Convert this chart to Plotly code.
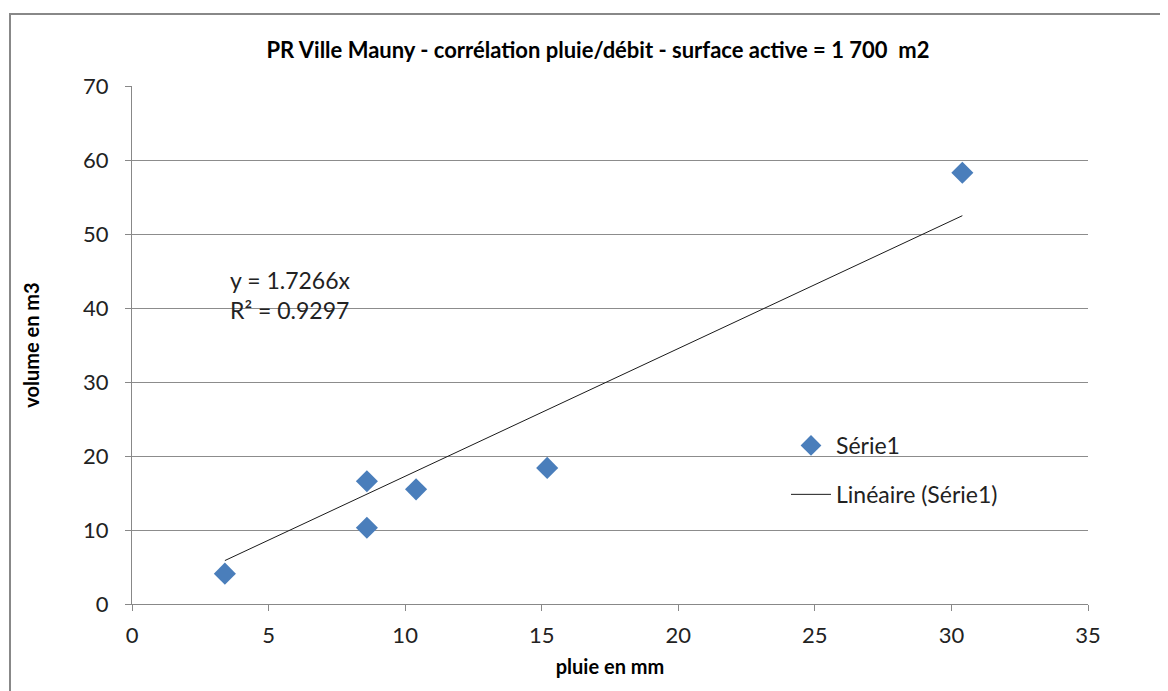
import plotly.graph_objects as go

# Data
pluie_mm = [3.4, 8.6, 8.6, 10.4, 15.2, 30.4]
volume_m3 = [4.1, 16.6, 10.3, 15.5, 18.4, 58.3]
trend_slope = 1.7266
r_squared = 0.9297
x_ticks = [0, 5, 10, 15, 20, 25, 30, 35]
y_ticks = [0, 10, 20, 30, 40, 50, 60, 70]

FONT = "Lato"
OFF = 8  # page body margin

trend_x = [min(pluie_mm), max(pluie_mm)]
trend_y = [trend_slope * v for v in trend_x]

fig = go.Figure()
fig.add_trace(go.Scatter(
    x=pluie_mm, y=volume_m3, mode="markers", name="Série1", legendgroup="a",
    marker=dict(symbol="diamond", size=17, color="#4a7ebb"),
))
fig.add_trace(go.Scatter(
    x=trend_x, y=trend_y, mode="lines", name="Linéaire (Série1)", legendgroup="b",
    line=dict(color="#1a1a1a", width=1),
))

L, T = 132 - OFF, 86 - OFF
R = 1168 - (1088 - OFF)
B = 691 - (604 - OFF)
PW, PH = 1168 - L - R, 691 - T - B

fig.update_layout(
    width=1168, height=691,
    margin=dict(l=L, r=R, t=T, b=B),
    paper_bgcolor="white", plot_bgcolor="white",
    title=dict(
        text="<b>PR Ville Mauny - corrélation pluie/débit - surface active = 1 700  m2</b>",
        x=(598 - OFF) / 1168, xanchor="center",
        y=1 - (50 - OFF) / 691, yanchor="middle",
        font=dict(family=FONT, size=22, color="#000"),
    ),
    font=dict(family=FONT, size=22, color="#222"),
    showlegend=True,
    legend=dict(
        x=(786 - OFF - L) / PW, y=(604 - 424) / PH, xanchor="left", yanchor="top",
        bgcolor="rgba(0,0,0,0)", font=dict(family=FONT, size=23, color="#222"),
        tracegroupgap=16, itemwidth=40,
    ),
    xaxis=dict(
        range=[0, 35], tickvals=x_ticks, showgrid=False, zeroline=False,
        showline=True, linecolor="#888", linewidth=1,
        ticks="outside", tickcolor="#888", ticklen=6, ticklabelstandoff=6,
        tickfont=dict(family=FONT, size=22, color="#222"),
        title=dict(text="<b>pluie en mm</b>", font=dict(family=FONT, size=20, color="#000"), standoff=12),
    ),
    yaxis=dict(
        range=[0, 70.02], tickvals=y_ticks, showgrid=True, gridcolor="#8c8c8c", gridwidth=1,
        zeroline=False, showline=True, linecolor="#888", linewidth=1,
        ticks="outside", tickcolor="#888", ticklen=6, ticklabelstandoff=12,
        tickfont=dict(family=FONT, size=22, color="#222"),
        title=dict(text="<b>volume en m3</b>", font=dict(family=FONT, size=20, color="#000"), standoff=38),
    ),
)

fig.add_annotation(x=3.5, y=43.8, xref="x", yref="y", text=f"y = {trend_slope}x",
                   showarrow=False, xanchor="left", yanchor="middle",
                   font=dict(family=FONT, size=23, color="#222"))
fig.add_annotation(x=3.5, y=39.7, xref="x", yref="y", text=f"R² = {r_squared}",
                   showarrow=False, xanchor="left", yanchor="middle",
                   font=dict(family=FONT, size=23, color="#222"))

# outer chart-area frame
fig.add_shape(type="rect", xref="paper", yref="paper",
              x0=(10 - OFF - L) / PW, x1=(1166 - OFF - L) / PW,
              y0=-0.4, y1=1 + (86 - 14) / PH,
              line=dict(color="#888", width=2), fillcolor="rgba(0,0,0,0)", layer="below")

fig.write_html("out.html")
